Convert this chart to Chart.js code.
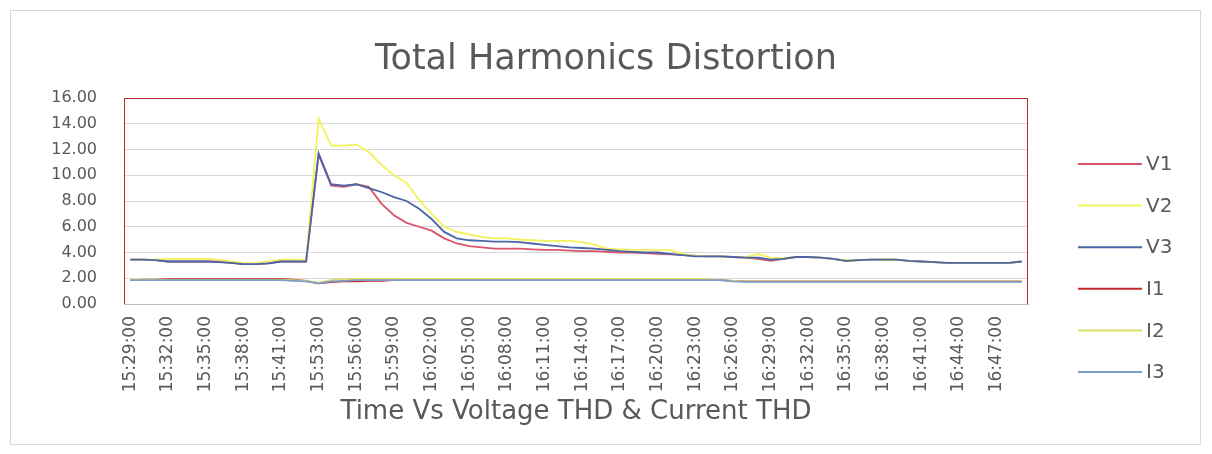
<!DOCTYPE html>
<html>
<head>
<meta charset="utf-8">
<title>Total Harmonics Distortion</title>
<script src="https://cdn.jsdelivr.net/npm/chart.js@4.4.1/dist/chart.umd.min.js"></script>
<style>
    body { margin: 0; background: #ffffff; }
    #grafico_thd { display: block; }
</style>
</head>
<body>
<canvas id="grafico_thd" width="1212" height="454"></canvas>
<script>
// horarios das medicoes (a cada 1 minuto, com um buraco entre 15:43 e 15:53)
const horarios = [
    "15:29:00", "15:30:00", "15:31:00", "15:32:00", "15:33:00", "15:34:00", "15:35:00", "15:36:00",
    "15:37:00", "15:38:00", "15:39:00", "15:40:00", "15:41:00", "15:42:00", "15:43:00",
    "15:53:00", "15:54:00", "15:55:00", "15:56:00", "15:57:00", "15:58:00", "15:59:00", "16:00:00",
    "16:01:00", "16:02:00", "16:03:00", "16:04:00", "16:05:00", "16:06:00", "16:07:00", "16:08:00",
    "16:09:00", "16:10:00", "16:11:00", "16:12:00", "16:13:00", "16:14:00", "16:15:00", "16:16:00",
    "16:17:00", "16:18:00", "16:19:00", "16:20:00", "16:21:00", "16:22:00", "16:23:00", "16:24:00",
    "16:25:00", "16:26:00", "16:27:00", "16:28:00", "16:29:00", "16:30:00", "16:31:00", "16:32:00",
    "16:33:00", "16:34:00", "16:35:00", "16:36:00", "16:37:00", "16:38:00", "16:39:00", "16:40:00",
    "16:41:00", "16:42:00", "16:43:00", "16:44:00", "16:45:00", "16:46:00", "16:47:00", "16:48:00",
    "16:49:00"
];

// THD de tensao
const v1 = [
    3.45, 3.45, 3.4, 3.3, 3.3, 3.3, 3.3, 3.3, 3.2, 3.1, 3.1, 3.15, 3.3, 3.3, 3.3,
    11.6, 9.2, 9.1, 9.3, 9.1, 7.8, 6.9, 6.3, 6.0, 5.7, 5.1, 4.7, 4.5, 4.4, 4.3,
    4.3, 4.3, 4.25, 4.2, 4.2, 4.15, 4.1, 4.1, 4.05, 4.0, 4.0, 3.95, 3.9, 3.85, 3.8,
    3.75, 3.7, 3.7, 3.65, 3.6, 3.5, 3.35, 3.5, 3.65, 3.65, 3.6, 3.5, 3.35, 3.4, 3.45,
    3.45, 3.45, 3.35, 3.3, 3.25, 3.2, 3.2, 3.2, 3.2, 3.2, 3.2, 3.3
];
const v2 = [
    3.45, 3.45, 3.45, 3.5, 3.5, 3.5, 3.5, 3.45, 3.3, 3.2, 3.15, 3.35, 3.45, 3.45, 3.4,
    14.4, 12.3, 12.3, 12.4, 11.8, 10.8, 10.0, 9.4, 8.1, 7.0, 6.0, 5.6, 5.4, 5.2, 5.1,
    5.1, 5.0, 4.95, 4.9, 4.9, 4.9, 4.8, 4.6, 4.3, 4.25, 4.2, 4.2, 4.2, 4.2, 3.9,
    3.75, 3.7, 3.7, 3.65, 3.6, 3.9, 3.6, 3.55, 3.65, 3.65, 3.6, 3.5, 3.4, 3.4, 3.45,
    3.45, 3.45, 3.35, 3.3, 3.25, 3.2, 3.2, 3.2, 3.2, 3.2, 3.2, 3.3
];
const v3 = [
    3.45, 3.45, 3.4, 3.3, 3.3, 3.3, 3.3, 3.25, 3.2, 3.1, 3.1, 3.15, 3.3, 3.3, 3.3,
    11.7, 9.3, 9.2, 9.3, 9.0, 8.7, 8.3, 8.0, 7.4, 6.6, 5.6, 5.1, 4.95, 4.9, 4.85,
    4.85, 4.8, 4.7, 4.6, 4.5, 4.4, 4.35, 4.3, 4.2, 4.1, 4.05, 4.0, 4.0, 3.9, 3.8,
    3.7, 3.7, 3.7, 3.65, 3.6, 3.6, 3.45, 3.5, 3.65, 3.65, 3.6, 3.5, 3.35, 3.4, 3.45,
    3.45, 3.45, 3.35, 3.3, 3.25, 3.2, 3.2, 3.2, 3.2, 3.2, 3.2, 3.3
];

// THD de corrente
const i1 = [
    1.85, 1.9, 1.9, 1.95, 1.95, 1.95, 1.95, 1.95, 1.95, 1.95, 1.95, 1.95, 1.95, 1.9, 1.8,
    1.6, 1.7, 1.75, 1.75, 1.8, 1.8, 1.85, 1.85, 1.85, 1.85, 1.85, 1.85, 1.85, 1.85, 1.85,
    1.85, 1.85, 1.85, 1.85, 1.85, 1.85, 1.85, 1.85, 1.85, 1.85, 1.85, 1.85, 1.85, 1.85, 1.85,
    1.85, 1.85, 1.85, 1.8, 1.75, 1.75, 1.75, 1.75, 1.75, 1.75, 1.75, 1.75, 1.75, 1.75, 1.75,
    1.75, 1.75, 1.75, 1.75, 1.75, 1.75, 1.75, 1.75, 1.75, 1.75, 1.75, 1.75
];
const i2 = [
    1.9, 1.9, 1.9, 1.9, 1.9, 1.9, 1.9, 1.9, 1.9, 1.9, 1.9, 1.9, 1.9, 1.85, 1.8,
    1.65, 1.85, 1.95, 1.95, 1.95, 1.95, 1.95, 1.95, 1.95, 1.95, 1.95, 1.95, 1.95, 1.95, 1.95,
    1.95, 1.95, 1.95, 1.95, 1.95, 1.95, 1.95, 1.95, 1.95, 1.95, 1.95, 1.95, 1.95, 1.95, 1.95,
    1.95, 1.95, 1.85, 1.8, 1.75, 1.75, 1.75, 1.75, 1.75, 1.75, 1.75, 1.75, 1.75, 1.75, 1.75,
    1.75, 1.75, 1.75, 1.75, 1.75, 1.75, 1.75, 1.75, 1.75, 1.75, 1.75, 1.75
];
const i3 = [
    1.85, 1.85, 1.85, 1.85, 1.85, 1.85, 1.85, 1.85, 1.85, 1.85, 1.85, 1.85, 1.85, 1.8, 1.75,
    1.6, 1.75, 1.8, 1.85, 1.85, 1.85, 1.85, 1.85, 1.85, 1.85, 1.85, 1.85, 1.85, 1.85, 1.85,
    1.85, 1.85, 1.85, 1.85, 1.85, 1.85, 1.85, 1.85, 1.85, 1.85, 1.85, 1.85, 1.85, 1.85, 1.85,
    1.85, 1.85, 1.85, 1.75, 1.72, 1.72, 1.72, 1.72, 1.72, 1.72, 1.72, 1.72, 1.72, 1.72, 1.72,
    1.72, 1.72, 1.72, 1.72, 1.72, 1.72, 1.72, 1.72, 1.72, 1.72, 1.72, 1.72
];

const nomes_series = ["V1", "V2", "V3", "I1", "I2", "I3"];
const cores_series = ["#d9546a", "#f2f25a", "#4a64a8", "#c0282a", "#dde066", "#7d9cc8"];

const fonte = "'DejaVu Sans', 'Open Sans', sans-serif";
const cinza_texto = "#595959";

// monta os datasets (o ultimo fica por cima, igual no excel)
const valores = [v1, v2, v3, i1, i2, i3];
const datasets = [];
for (let i = 0; i < valores.length; i++) {
    datasets.push({
        label: nomes_series[i],
        data: valores[i],
        borderColor: cores_series[i],
        backgroundColor: cores_series[i],
        borderWidth: 1.8,
        pointRadius: 0,
        tension: 0,
        fill: false,
        order: valores.length - i
    });
}

// moldura vermelha da area do grafico, borda externa e legenda do lado direito
const pluginMoldura = {
    id: 'moldura',
    beforeDraw(chart) {
        const ctx = chart.ctx;
        ctx.save();
        ctx.fillStyle = "#ffffff";
        ctx.fillRect(0, 0, chart.width, chart.height);
        ctx.strokeStyle = "#d9d9d9";
        ctx.lineWidth = 1;
        ctx.strokeRect(10.5, 10.5, 1190, 434);
        ctx.restore();
    },
    afterDraw(chart) {
        const ctx = chart.ctx;
        const area = chart.chartArea;
        ctx.save();
        ctx.strokeStyle = "#b8282e";
        ctx.lineWidth = 1;
        ctx.beginPath();
        ctx.moveTo(area.left + 0.5, area.bottom);
        ctx.lineTo(area.left + 0.5, area.top + 0.5);
        ctx.lineTo(area.right - 0.5, area.top + 0.5);
        ctx.lineTo(area.right - 0.5, area.bottom);
        ctx.stroke();

        // legenda
        ctx.font = "20px " + fonte;
        ctx.textBaseline = "middle";
        ctx.textAlign = "left";
        for (let i = 0; i < chart.data.datasets.length; i++) {
            const ds = chart.data.datasets[i];
            const y = 164 + i * 41.6;
            ctx.strokeStyle = ds.borderColor;
            ctx.lineWidth = 2;
            ctx.beginPath();
            ctx.moveTo(1078, y);
            ctx.lineTo(1142, y);
            ctx.stroke();
            ctx.fillStyle = cinza_texto;
            ctx.fillText(ds.label, 1146, y + 1);
        }
        ctx.restore();
    }
};

const ctx_thd = document.getElementById("grafico_thd").getContext("2d");
const graficoTHD = new Chart(ctx_thd, {
    type: 'line',
    data: {
        labels: horarios,
        datasets: datasets
    },
    options: {
        responsive: false,
        animation: false,
        layout: {
            padding: { top: 19, right: 0, bottom: 20, left: 0 }
        },
        plugins: {
            legend: { display: false },
            tooltip: { enabled: false },
            title: {
                display: true,
                text: "Total Harmonics Distortion",
                color: cinza_texto,
                font: { family: fonte, size: 35, weight: 'normal' },
                padding: { top: 20, bottom: 17 }
            }
        },
        scales: {
            x: {
                offset: true,
                grid: { display: false, drawTicks: false },
                border: { display: true, color: "#bfbfbf", width: 1 },
                ticks: {
                    autoSkip: false,
                    maxRotation: 90,
                    minRotation: 90,
                    padding: 12,
                    color: cinza_texto,
                    font: { family: fonte, size: 17 },
                    callback: function (valor, indice) {
                        // mostra so um horario a cada 3
                        return indice % 3 === 0 ? horarios[indice] : '';
                    }
                },
                title: {
                    display: true,
                    text: "Time Vs Voltage THD & Current THD",
                    color: cinza_texto,
                    font: { family: fonte, size: 26 },
                    padding: { top: 0, bottom: 6 }
                },
                afterFit: function (escala) {
                    escala.height = 130;
                }
            },
            y: {
                min: 0,
                max: 16,
                grid: { color: "#d9d9d9", drawTicks: false },
                border: { display: false },
                ticks: {
                    stepSize: 2,
                    padding: 27,
                    color: cinza_texto,
                    font: { family: fonte, size: 16 },
                    callback: function (valor) {
                        return Number(valor).toFixed(2);
                    }
                },
                afterFit: function (escala) {
                    escala.width = 124;
                }
            },
            // eixo vazio so para reservar o espaco da legenda (assim o titulo fica centralizado)
            espaco_legenda: {
                type: 'linear',
                position: 'right',
                display: true,
                grid: { display: false, drawTicks: false },
                border: { display: false },
                ticks: { display: false },
                afterFit: function (escala) {
                    escala.width = 184;
                }
            }
        }
    },
    plugins: [pluginMoldura]
});
</script>
</body>
</html>
